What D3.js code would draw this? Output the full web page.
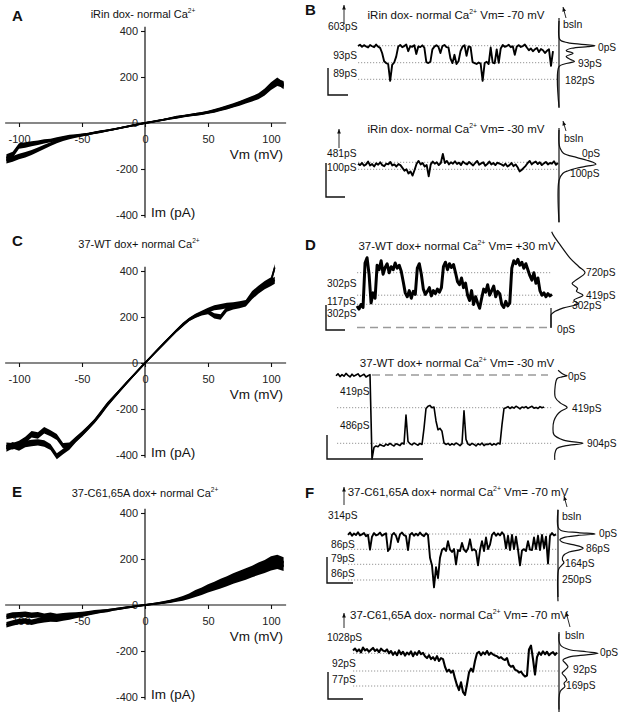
<!DOCTYPE html>
<html><head><meta charset="utf-8">
<script src="https://cdn.jsdelivr.net/npm/d3@7/dist/d3.min.js"></script>
<style>html,body{margin:0;padding:0;background:#fff}</style>
</head><body>
<svg id="fig" width="624" height="720" xmlns="http://www.w3.org/2000/svg"></svg>
<script>
// ================= DATA =================
const ivTickY = [400, 200, 0, -200, -400];
const ivTickX = [-100, -50, 0, 50, 100];

// membrane potential (mV) samples for the I-V ramps
const vm45 = [-110,-105,-100,-95,-90,-85,-80,-75,-70,-65,-60,-55,-50,-45,-40,-35,-30,-25,-20,-15,-10,-5,0,5,10,15,20,25,30,35,40,45,50,55,60,65,70,75,80,85,90,95,100,105,110];
const vmC  = [-110,-105,-100,-95,-90,-85,-80,-75,-70,-65,-60,-55,-50,-45,-40,-35,-30,-25,-20,-15,-10,-5,0,5,10,15,20,25,30,35,40,45,50,55,60,65,70,75,80,85,90,95,100,103];

// Panel A (pA)
const imA1 = [-150,-138,-100,-96,-90,-86,-80,-76,-70,-63,-58,-55,-52,-47,-42,-37,-32,-27,-22,-16,-11,-5,0,5,10,15,21,26,30,34,38,42,47,54,61,69,78,87,97,107,118,138,163,183,162];
const imA2 = [-162,-156,-146,-138,-128,-116,-104,-92,-80,-71,-64,-58,-53,-48,-43,-38,-33,-28,-22,-17,-11,-6,0,4,9,14,19,24,29,33,37,41,46,52,59,67,75,84,94,104,114,132,158,176,168];
const noiseA = [14,13,12,12,11,10,9,8,8,7,7,6,6,5,5,5,4,4,4,4,4,4,4,4,4,4,4,5,5,5,6,6,6,7,7,8,8,9,9,10,11,12,14,15,15];

// Panel C (pA)
const imC1 = [-360,-362,-352,-335,-310,-315,-292,-305,-322,-360,-358,-332,-307,-280,-250,-215,-178,-148,-118,-88,-58,-29,0,29,58,86,114,142,168,190,206,218,230,240,245,250,252,256,262,300,322,342,358,415];
const imC2 = [-372,-358,-368,-352,-348,-345,-350,-365,-405,-385,-365,-335,-310,-282,-254,-220,-184,-152,-121,-90,-60,-30,0,28,56,84,112,140,165,188,204,215,222,205,200,235,245,250,258,290,315,335,350,360];
const noiseC = [14,14,14,14,14,14,14,13,13,12,12,11,10,9,8,8,7,7,6,6,5,5,5,5,5,6,6,6,7,7,8,9,10,11,12,12,12,12,12,13,14,14,15,15];

// Panel E (pA)
const imE1 = [-50,-44,-42,-40,-45,-42,-48,-44,-48,-45,-42,-40,-36,-32,-28,-25,-22,-18,-14,-10,-7,-3,0,4,8,12,18,24,32,42,55,65,78,88,100,110,122,132,142,152,165,175,190,196,186];
const imE2 = [-86,-78,-72,-70,-75,-68,-65,-62,-64,-58,-55,-50,-45,-40,-34,-30,-26,-21,-17,-12,-8,-4,0,3,6,10,14,20,26,34,45,55,66,76,86,96,108,118,128,140,150,160,172,178,170];
const noiseE = [12,12,12,12,12,12,11,11,10,10,9,8,7,6,6,5,5,4,4,4,4,4,4,4,4,5,5,6,7,8,10,11,12,13,14,15,16,17,18,19,20,21,22,22,22];

// Single-channel conductance levels (pS)
const levelsB1 = [0, 93, 182];
const levelsB2 = [0, 100];
const levelsD1 = [0, 302, 419, 720];
const levelsD2 = [0, 419, 904];
const levelsF1 = [0, 86, 164, 250];
const levelsF2 = [0, 92, 169];

// Single-channel traces (pS, equally spaced in time)
const traceB1 = [2,-5,6,-3,4,10,-4,3,8,-6,5,12,
  40,85,95,100,190,105,92,60,
  5,-4,8,2,-6,30,3,6,-3,45,4,8,-2,10,
  90,95,88,20,
  5,-3,6,40,2,-4,8,10,
  70,95,50,100,85,30,
  5,-3,55,4,8,
  90,95,100,92,98,190,
  95,88,100,10,92,96,20,94,15,
  -4,6,2,-5,8,3,50,4,-3,7,2,-6,
  10,25,15,30,20,12,35,18,25,40,28,20,110,30];
const traceB2 = [20,40,10,50,30,-10,45,25,60,15,35,0,40,55,20,30,-5,45,30,60,25,40,
  80,120,100,160,130,190,110,
  20,-20,30,10,60,40,
  200,
  30,-10,20,0,40,10,
  -120,
  10,-20,30,0,20,-15,25,5,40,-10,15,30,-5,20,45,10,-20,35,15,0,50,25,-10,30,10,40,5,20,
  30,50,20,60,40,10,55,30,70,
  130,110,80,50,
  10,-20,30,5,-10,25,0,40,15,-5,30,10,20,-15,35,10];
const traceD1 = [280,240,300,260,
  850,920,700,
  320,450,380,
  820,760,880,700,790,840,720,800,760,850,780,820,
  740,600,
  450,400,480,380,470,430,
  780,840,700,
  500,430,470,520,410,480,440,500,460,520,
  800,860,760,840,790,830,720,
  600,560,650,520,580,
  420,350,480,300,400,320,250,380,
  500,460,560,420,480,540,400,470,440,
  300,260,340,280,320,
  780,880,840,900,820,860,780,840,760,
  680,620,720,580,650,
  480,420,450,400,440,410,430];
const traceD2 = [10,-15,20,-5,15,-20,5,25,-10,15,0,-15,20,5,-10,25,10,-5,
  1120,
  960,940,950,920,935,945,915,930,905,925,940,910,920,935,900,915,
  520,880,
  910,925,900,915,930,905,920,
  700,430,400,
  390,420,410,
  600,720,700,
  740,900,
  920,905,930,910,925,900,915,935,910,
  460,850,
  915,930,905,920,940,910,925,900,935,915,920,905,930,910,925,900,915,
  650,430,
  420,405,430,410,425,400,415,435,410,420,405,428,412,400,425,415,430,405,420,410];
const traceF1 = [5,-8,10,-3,6,-10,8,2,-6,12,4,
  88,15,
  -5,8,3,-8,10,2,-4,
  95,80,
  5,-6,10,45,2,-8,6,12,
  90,
  4,-6,10,-2,8,-8,5,12,-4,6,
  130,170,290,180,240,130,
  90,80,95,40,88,100,85,
  165,
  90,95,50,88,100,82,30,92,86,95,
  170,
  90,40,95,20,85,60,
  5,-8,10,-3,8,-10,6,
  80,10,90,5,85,15,88,
  170,
  92,85,95,40,88,90,
  20,85,10,90,5,80,15,
  160,
  10,-5,8,2];
const traceF2 = [-15,-25,-10,-20,-5,-30,-15,-22,-8,-18,-28,-12,-20,-6,-24,-14,-10,-20,
  0,-12,8,-6,10,-15,5,-8,12,-4,6,-10,15,-5,8,-12,4,-2,
  15,25,10,30,20,35,15,40,25,30,
  70,95,85,100,90,
  130,165,190,150,200,215,160,
  100,80,95,40,
  0,-8,10,-5,5,-12,8,-3,6,12,
  15,25,20,30,35,25,
  60,70,65,85,90,100,95,110,120,115,
  -20,-40,30,110,
  20,-5,8,-10,5,-8,10,0,-6,8,-4];

// Amplitude histograms: conductance (pS) vs relative count (%)
const histB1Lev = [-135,-45,-28,-14,-5,0,5,14,27,41,59,75,86,100,114,330];
const histB1Cnt = [0,0,5,30,80,100,80,35,20,39,20,32,43,15,0,0];
const histB2Lev = [-460,-270,-200,-130,-70,-30,0,28,55,85,120,160,260,860];
const histB2Cnt = [0,0,3,12,47,75,92,100,75,47,25,10,0,0];
const histD1Lev = [0,150,163,200,255,310,353,419,470,510,575,614,719,800,915,1098,1229,1268];
const histD1Cnt = [0,0,0,8,37,81,67,94,75,78,62,71,100,82,56,26,6,2];
const histD2Lev = [-60,-20,0,9,25,45,150,290,360,415,470,520,600,700,785,860,904,940,975,1050,1130];
const histD2Cnt = [17,30,40,47,30,14,7,8,25,47,25,13,3,0,3,35,100,40,13,6,6];
const histF1Lev = [-137,-40,-20,-8,0,8,20,32,44,60,72,80,88,100,120,140,155,170,190,366];
const histF1Cnt = [0,0,8,55,100,55,15,5,10,40,62,68,60,30,14,12,16,10,2,0];
const histF2Lev = [-102,-65,-40,-20,-8,0,8,20,36,55,70,88,103,120,138,155,172,197,290];
const histF2Cnt = [0,0,5,25,70,100,70,25,10,18,23,15,8,15,20,13,15,3,0];

// ================= DRAWING =================
const FF = "'Liberation Sans', Arial, Helvetica, sans-serif";
const svg = d3.select("#fig").style("font-family", FF);
const INK = "#111";

function txt(x, y, s, size, anchor, weight) {
  const t = svg.append("text").attr("x", x).attr("y", y).attr("font-size", size)
    .attr("text-anchor", anchor || "start").attr("fill", INK).text(s);
  if (weight) t.attr("font-weight", weight);
  return t;
}
function titleText(x, y, pre, sup, post, size) {
  const t = svg.append("text").attr("x", x).attr("y", y).attr("font-size", size)
    .attr("text-anchor", "middle").attr("fill", INK);
  t.append("tspan").text(pre);
  t.append("tspan").attr("font-size", size * 0.6).attr("dy", -size * 0.42).text(sup);
  if (post) t.append("tspan").attr("dy", size * 0.42).text(post);
}
function arrow(x1, y1, x2, y2) {
  svg.append("line").attr("x1", x1).attr("y1", y1).attr("x2", x2).attr("y2", y2)
    .attr("stroke", INK).attr("stroke-width", 0.9);
  const a = Math.atan2(y2 - y1, x2 - x1), L = 4.5, W = 1.9;
  const pts = [[x2, y2],
    [x2 - L * Math.cos(a) + W * Math.sin(a), y2 - L * Math.sin(a) - W * Math.cos(a)],
    [x2 - L * Math.cos(a) - W * Math.sin(a), y2 - L * Math.sin(a) + W * Math.cos(a)]];
  svg.append("path").attr("d", d3.line()(pts) + "Z").attr("fill", INK);
}
function scaleBar(x, y1, y2, x2) {
  svg.append("path").attr("d", `M${x},${y1}V${y2}H${x2}`).attr("fill", "none")
    .attr("stroke", INK).attr("stroke-width", 1.4);
}

// ---------- I-V panels ----------
function ivPanel(p) {
  const x = d3.scaleLinear().domain([-100, 100]).range([19, 271]);
  const y = d3.scaleLinear().domain([-400, 400]).range([p.yb, p.yt]);
  const g = svg.append("g");
  g.append("line").attr("x1", x(-111)).attr("x2", x(112)).attr("y1", y(0)).attr("y2", y(0))
    .attr("stroke", INK).attr("stroke-width", 1.2);
  g.append("line").attr("x1", x(0)).attr("x2", x(0)).attr("y1", y(418)).attr("y2", y(-412))
    .attr("stroke", INK).attr("stroke-width", 1.2);
  const ay = g.append("g").attr("transform", `translate(${x(0)},0)`)
    .call(d3.axisLeft(y).tickValues(ivTickY).tickSize(4).tickPadding(3).tickFormat(d => String(d)));
  ay.select(".domain").remove();
  const ax = g.append("g").attr("transform", `translate(0,${y(0)})`)
    .call(d3.axisBottom(x).tickValues(ivTickX).tickSize(4).tickPadding(8).tickFormat(d => String(d)));
  ax.select(".domain").remove();
  g.selectAll(".tick text").attr("font-size", 11).attr("font-family", FF).attr("fill", "#222");
  g.selectAll(".tick line").attr("stroke", INK).attr("stroke-width", 1.1);

  [p.s1, p.s2].forEach(s => {
    const rows = p.v.map((v, i) => ({ v: v, c: s[i], n: p.n[i] }));
    g.append("path")
      .attr("d", d3.area().x(d => x(d.v)).y0(d => y(d.c - d.n)).y1(d => y(d.c + d.n))(rows))
      .attr("fill", "#000");
    g.append("path")
      .attr("d", d3.line().x(d => x(d.v)).y(d => y(d.c))(rows))
      .attr("fill", "none").attr("stroke", "#000").attr("stroke-width", 1.6).attr("stroke-linejoin", "round");
  });
  txt(283, y(0) + 36, "Vm (mV)", 13.5, "end");
  txt(151, p.yb + 2, "Im (pA)", 13.5, "start");
  txt(12, p.letterY, p.letter, 15, "start", "bold");
  titleText(p.tx, p.ty, p.title, "2+", "", 11);
}

ivPanel({ v: vm45, s1: imA1, s2: imA2, n: noiseA, yt: 31, yb: 215, letter: "A", letterY: 21,
  title: "iRin dox- normal Ca", tx: 143, ty: 18 });
ivPanel({ v: vmC, s1: imC1, s2: imC2, n: noiseC, yt: 271, yb: 455, letter: "C", letterY: 246,
  title: "37-WT dox+ normal Ca", tx: 139, ty: 248 });
ivPanel({ v: vm45, s1: imE1, s2: imE2, n: noiseE, yt: 513, yb: 697, letter: "E", letterY: 497,
  title: "37-C61,65A dox+ normal Ca", tx: 145, ty: 497 });

// ---------- single-channel panels ----------
function tracePanel(c) {
  const ys = d3.scaleLinear().domain(c.levels).range(c.levelY);
  const xs = d3.scaleLinear().domain([0, c.values.length - 1]).range([c.x0, c.x1]);
  c.dotted.forEach(l => svg.append("line").attr("x1", c.dx0).attr("x2", c.dx1)
    .attr("y1", ys(l)).attr("y2", ys(l)).attr("stroke", "#8a8a8a").attr("stroke-width", 0.9)
    .attr("stroke-dasharray", "1.2,1.8"));
  (c.dashed || []).forEach(l => svg.append("line").attr("x1", c.ddx0).attr("x2", c.ddx1)
    .attr("y1", ys(l)).attr("y2", ys(l)).attr("stroke", "#9a9a9a").attr("stroke-width", 1.6)
    .attr("stroke-dasharray", "8,5"));
  svg.append("path").attr("d", d3.line().x((d, i) => xs(i)).y(d => ys(d))(c.values))
    .attr("fill", "none").attr("stroke", "#000").attr("stroke-width", c.sw).attr("stroke-linejoin", "round");
  const hs = d3.scaleLinear().domain([0, 100]).range([c.hx, c.hx + c.hw]);
  if (c.hLine) svg.append("line").attr("x1", c.hx).attr("x2", c.hx).attr("y1", c.hLine[0]).attr("y2", c.hLine[1])
    .attr("stroke", INK).attr("stroke-width", 1.2);
  svg.append("path")
    .attr("d", d3.line().x(d => hs(d[1])).y(d => ys(d[0])).curve(d3.curveCatmullRom.alpha(0.5))(d3.zip(c.hLev, c.hCnt)))
    .attr("fill", "none").attr("stroke", INK).attr("stroke-width", 1.2);
}

tracePanel({ values: traceB1, sw: 1.9, x0: 358, x1: 553, levels: levelsB1, levelY: [45.7, 62.7, 79.3],
  dotted: levelsB1, dx0: 358, dx1: 558, hx: 559, hw: 36, hLine: [18, 108], hLev: histB1Lev, hCnt: histB1Cnt });
tracePanel({ values: traceB2, sw: 1.9, x0: 358, x1: 558, levels: levelsB2, levelY: [162.3, 169.3],
  dotted: levelsB2, dx0: 358, dx1: 559, hx: 559, hw: 37, hLine: [128, 222], hLev: histB2Lev, hCnt: histB2Cnt });
tracePanel({ values: traceD1, sw: 3.0, x0: 357, x1: 552, levels: levelsD1, levelY: [327.5, 304.3, 295.2, 272.7],
  dotted: levelsD1.slice(1), dx0: 357, dx1: 552, dashed: [0], ddx0: 357, ddx1: 549,
  hx: 551, hw: 34, hLine: [308, 328], hLev: histD1Lev, hCnt: histD1Cnt });
tracePanel({ values: traceD2, sw: 1.6, x0: 336, x1: 544, levels: levelsD2, levelY: [375, 407.7, 443.3],
  dotted: levelsD2.slice(1), dx0: 337, dx1: 553, dashed: [0], ddx0: 372, ddx1: 548,
  hx: 553, hw: 30, hLev: histD2Lev, hCnt: histD2Cnt });
tracePanel({ values: traceF1, sw: 1.9, x0: 348, x1: 556, levels: levelsF1, levelY: [534, 549.3, 564.3, 580],
  dotted: levelsF1, dx0: 348, dx1: 558, hx: 558, hw: 37, hLine: [510, 597], hLev: histF1Lev, hCnt: histF1Cnt });
tracePanel({ values: traceF2, sw: 2.1, x0: 353, x1: 557, levels: levelsF2, levelY: [653.3, 671, 686],
  dotted: levelsF2, dx0: 353, dx1: 559, hx: 559, hw: 39, hLine: [632, 712], hLev: histF2Lev, hCnt: histF2Cnt });

// panel letters
txt(305, 15, "B", 15, "start", "bold");
txt(305, 250, "D", 15, "start", "bold");
txt(305, 498, "F", 15, "start", "bold");

// titles
titleText(456, 19, "iRin dox- normal Ca", "2+", " Vm= -70 mV", 11.5);
titleText(456, 133, "iRin dox- normal Ca", "2+", " Vm= -30 mV", 11.5);
titleText(457, 250, "37-WT dox+ normal Ca", "2+", " Vm= +30 mV", 11.5);
titleText(457, 367, "37-WT dox+ normal Ca", "2+", " Vm= -30 mV", 11.5);
titleText(458, 496, "37-C61,65A dox+ normal Ca", "2+", " Vm= -70 mV", 11.5);
titleText(459, 619, "37-C61,65A dox- normal Ca", "2+", " Vm= -70 mV", 11.5);

const PS = 10.2;
// left labels
[["603pS", 328, 30, "start"], ["93pS", 357, 59, "end"], ["89pS", 357, 77, "end"],
 ["481pS", 327, 157, "start"], ["100pS", 327, 170.5, "start"],
 ["302pS", 327, 287, "start"], ["117pS", 327, 305, "start"], ["302pS", 327, 317, "start"],
 ["419pS", 340, 395, "start"], ["486pS", 340, 429, "start"],
 ["314pS", 328, 519, "start"], ["86pS", 331, 548, "start"], ["79pS", 331, 562, "start"], ["86pS", 331, 577, "start"],
 ["1028pS", 327, 641, "start"], ["92pS", 332, 667, "start"], ["77pS", 332, 683, "start"]
].forEach(d => txt(d[1], d[2], d[0], PS, d[3]));
// right labels
[["0pS", 598, 51], ["93pS", 578, 66.5], ["182pS", 565, 84],
 ["0pS", 582, 157], ["100pS", 570, 177],
 ["720pS", 586, 276], ["419pS", 586, 299], ["302pS", 572, 309], ["0pS", 557, 333],
 ["0pS", 568, 380], ["419pS", 572, 412], ["904pS", 587, 447],
 ["0pS", 599, 537], ["86pS", 586, 552], ["164pS", 565, 567], ["250pS", 562, 583],
 ["0pS", 600, 656], ["92pS", 573, 673], ["169pS", 566, 689]
].forEach(d => txt(d[1], d[2], d[0], PS, "start"));
// baseline labels
[[563, 28], [564, 141.5], [562, 520], [565, 639]].forEach(d => txt(d[0], d[1], "bsln", 10.5, "start"));

// arrows
arrow(344, 24, 344, 5);
arrow(339, 148, 339, 129);
arrow(344, 505, 344, 487);
arrow(344, 628, 344, 613);
arrow(566, 18, 563, 7);
arrow(566, 131, 563, 121);
arrow(567, 507, 564, 496);
arrow(570, 627, 566, 612);

// scale bars
scaleBar(328, 68, 95, 348);
scaleBar(326, 163, 197, 345);
scaleBar(326, 305, 330, 345);
scaleBar(327, 435, 459, 423);
scaleBar(327, 557, 583, 353);
scaleBar(328, 672, 699, 363);
</script>
</body></html>
